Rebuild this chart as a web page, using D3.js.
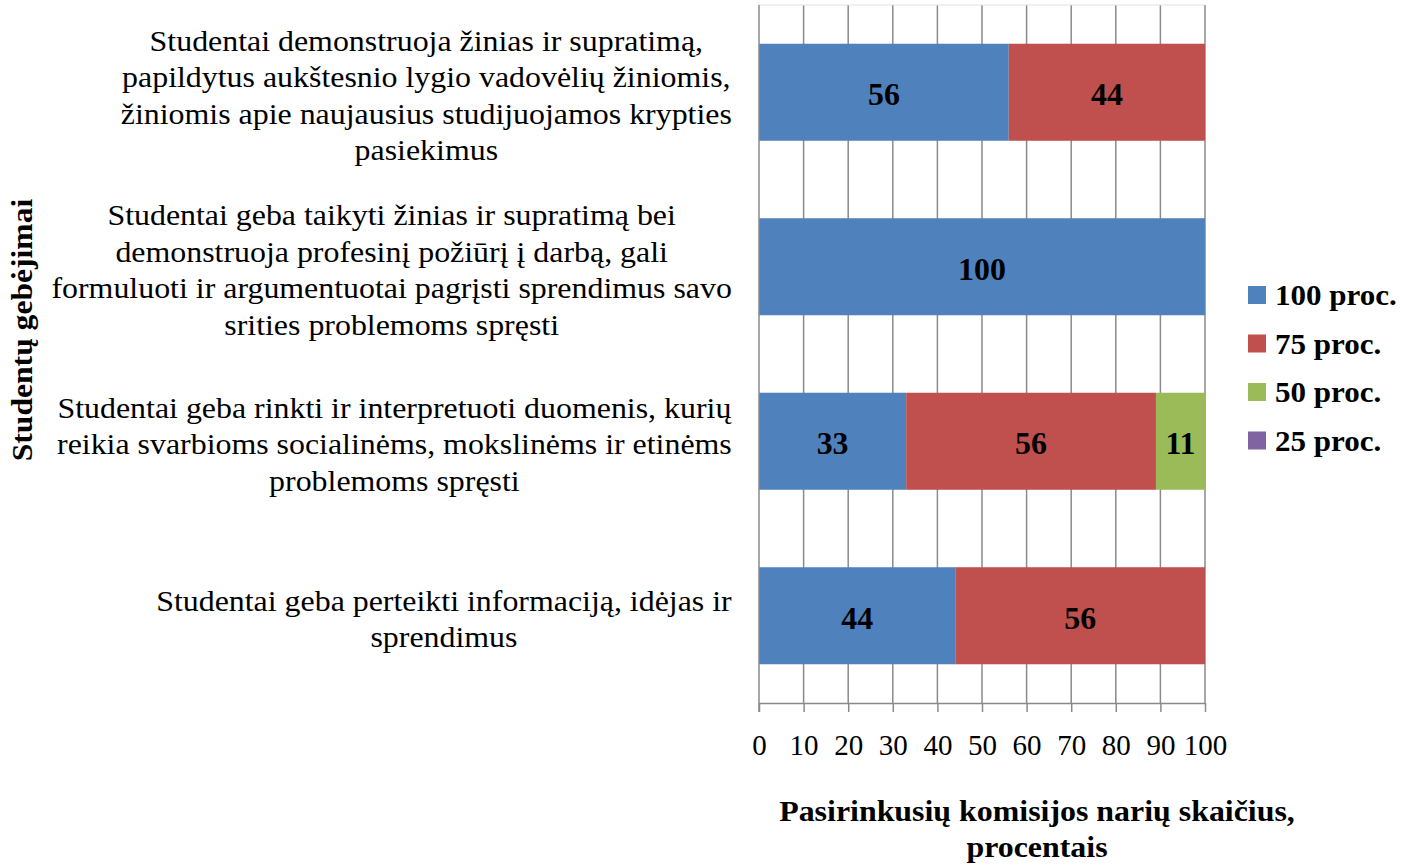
<!DOCTYPE html>
<html>
<head>
<meta charset="utf-8">
<script src="https://cdn.jsdelivr.net/npm/d3@7"></script>
<style>
  body { margin: 0; background: #fff; }
  svg text { font-family: "Liberation Serif", "Times New Roman", serif; fill: #000; }
</style>
</head>
<body>
<div id="myPlot" style="width:1413px;height:864px;"></div>
<script>
// Chart data
const categories = [
  ["Studentai demonstruoja žinias ir supratimą,", "papildytus aukštesnio lygio vadovėlių žiniomis,", "žiniomis apie naujausius studijuojamos krypties", "pasiekimus"],
  ["Studentai geba taikyti žinias ir supratimą bei", "demonstruoja profesinį požiūrį į darbą, gali", "formuluoti ir argumentuotai pagrįsti sprendimus savo", "srities problemoms spręsti"],
  ["Studentai geba rinkti ir interpretuoti duomenis, kurių", "reikia svarbioms socialinėms, mokslinėms ir etinėms", "problemoms spręsti"],
  ["Studentai geba perteikti informaciją, idėjas ir", "sprendimus"]
];
const seriesNames = ["100 proc.", "75 proc.", "50 proc.", "25 proc."];
const values100 = [56, 100, 33, 44];
const values75 = [44, 0, 56, 56];
const values50 = [0, 0, 11, 0];
const values25 = [0, 0, 0, 0];
const xTicks = [0, 10, 20, 30, 40, 50, 60, 70, 80, 90, 100];
const colors = ["#4F81BD", "#C0504D", "#9BBB59", "#8064A2"];
const yTitle = "Studentų gebėjimai";
const xTitle = ["Pasirinkusių komisijos narių skaičius,", "procentais"];

const width = 1413, height = 864;
const plot = { left: 759, right: 1205, top: 5, bottom: 703 };

const svg = d3.select("#myPlot").append("svg")
  .attr("width", width).attr("height", height);

// Text in the original is slightly stretched sideways
function place(sel, px, py, sx, rot) {
  sel.attr("x", 0).attr("y", 0)
    .attr("transform", "translate(" + px + "," + py + ")" + (rot ? " rotate(" + rot + ")" : "") + " scale(" + sx + ",1)");
  return sel;
}

const x = d3.scaleLinear().domain([0, 100]).range([plot.left, plot.right]);
const y = d3.scaleBand().domain(d3.range(categories.length))
  .range([plot.top, plot.bottom]).paddingInner(0.444).paddingOuter(0.222);

// Gridlines
svg.append("g")
  .selectAll("line")
  .data(xTicks.slice(1)).enter()
  .append("line")
  .attr("x1", d => x(d)).attr("x2", d => x(d))
  .attr("y1", plot.top).attr("y2", plot.bottom)
  .style("stroke", "#8a8a8a").style("stroke-width", 1.5);

svg.append("line")
  .attr("x1", plot.left).attr("x2", plot.right)
  .attr("y1", plot.top).attr("y2", plot.top)
  .style("stroke", "#e2e2e2").style("stroke-width", 1);

// Stacked data
const allSeries = [values100, values75, values50, values25];
const rows = categories.map((c, i) => {
  const r = { i: i };
  seriesNames.forEach((s, k) => { r[s] = allSeries[k][i]; });
  return r;
});
const stacked = d3.stack().keys(seriesNames)(rows);

const layers = svg.append("g").selectAll("g")
  .data(stacked).enter()
  .append("g")
  .style("fill", (d, k) => colors[k]);

layers.selectAll("rect")
  .data(d => d).enter()
  .append("rect")
  .attr("x", d => x(d[0]))
  .attr("width", d => x(d[1]) - x(d[0]))
  .attr("y", d => y(d.data.i))
  .attr("height", y.bandwidth());

// Data labels
layers.selectAll("text")
  .data(d => d.filter(v => v[1] - v[0] > 0)).enter()
  .append("text")
  .attr("dy", "0.35em")
  .attr("text-anchor", "middle")
  .style("font-size", "31px").style("font-weight", "bold")
  .style("fill", "#000")
  .text(d => Math.round(d[1] - d[0]))
  .each(function (d) {
    place(d3.select(this), (x(d[0]) + x(d[1])) / 2, y(d.data.i) + y.bandwidth() / 2 + 2, 1.03);
  });

// X axis
const xAxis = svg.append("g")
  .attr("transform", "translate(0," + plot.bottom + ")")
  .call(d3.axisBottom(x).tickValues(xTicks).tickSize(9).tickPadding(22).tickSizeOuter(0));
xAxis.selectAll("line").style("stroke", "#8a8a8a").style("stroke-width", 1.5);
xAxis.select(".domain").style("stroke", "#8a8a8a").style("stroke-width", 1.5);
xAxis.selectAll("text").style("font-size", "29px")
  .style("font-family", "Liberation Serif").style("fill", "#000");

// Y axis line
svg.append("line")
  .attr("x1", plot.left).attr("x2", plot.left)
  .attr("y1", plot.top).attr("y2", plot.bottom + 9)
  .style("stroke", "#8a8a8a").style("stroke-width", 1.5);

// Category labels (centered block, right aligned against axis)
const lineH = 36.5;
const catSx = 1.1;
categories.forEach((lines, i) => {
  const cy = y(i) + y.bandwidth() / 2 + 3;
  const t = svg.append("text")
    .attr("text-anchor", "middle")
    .style("font-size", "29px");
  lines.forEach((ln, j) => {
    t.append("tspan")
      .attr("x", 0)
      .attr("y", cy + (j - (lines.length - 1) / 2) * lineH)
      .attr("dy", "0.35em")
      .text(ln);
  });
  const w = t.node().getBBox().width * catSx;
  t.attr("transform", "translate(" + (732 - w / 2) + ",0) scale(" + catSx + ",1)");
});

// Axis titles
place(svg.append("text"), 22, 330, 1.09, -90)
  .attr("text-anchor", "middle").attr("dy", "0.35em")
  .style("font-size", "29px").style("font-weight", "bold")
  .text(yTitle);

xTitle.forEach((ln, j) => {
  place(svg.append("text"), 1037, 811 + j * 36, 1.1)
    .attr("dy", "0.35em")
    .attr("text-anchor", "middle")
    .style("font-size", "29px").style("font-weight", "bold")
    .text(ln);
});

// Legend
const legend = svg.append("g").selectAll("g")
  .data(seriesNames).enter()
  .append("g")
  .attr("transform", (d, k) => "translate(1248," + (295 + k * 48.5) + ")");
legend.append("rect")
  .attr("x", 0).attr("y", -9).attr("width", 18).attr("height", 18)
  .style("fill", (d, k) => colors[k]);
legend.append("text")
  .attr("dy", "0.35em")
  .attr("transform", "translate(27,0) scale(1.07,1)")
  .style("font-size", "29px").style("font-weight", "bold")
  .text(d => d);
</script>
</body>
</html>
